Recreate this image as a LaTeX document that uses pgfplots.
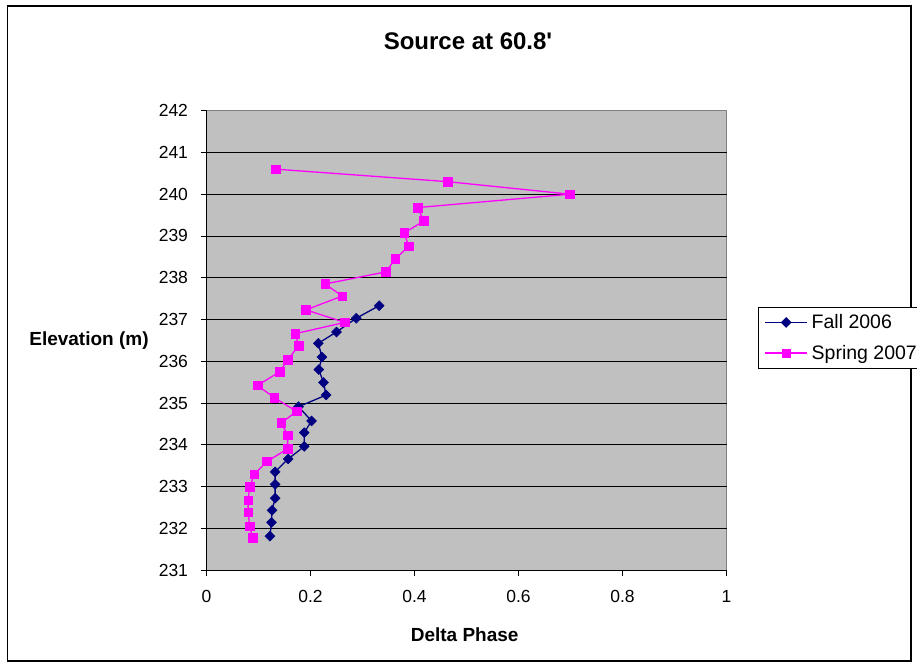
\documentclass[border=0pt]{standalone}
\usepackage{pgfplots}
\usepackage{pgfplotstable}
\pgfplotsset{compat=1.18}
\usepackage{fontspec}
\setmainfont{Liberation Sans}

\definecolor{fallnavy}{HTML}{000080}
\definecolor{springmag}{HTML}{FF00FF}
\definecolor{plotgray}{HTML}{C0C0C0}
\definecolor{framegray}{HTML}{808080}

% Delta phase against elevation, one table per survey
\pgfplotstableread{
phase elev
0.332 237.33
0.288 237.03
0.250 236.70
0.215 236.43
0.222 236.10
0.216 235.80
0.225 235.49
0.230 235.19
0.177 234.91
0.202 234.57
0.188 234.29
0.188 233.96
0.157 233.66
0.132 233.35
0.132 233.05
0.132 232.72
0.126 232.43
0.125 232.14
0.122 231.81
}\falltable

\pgfplotstableread{
phase elev
0.133 240.60
0.464 240.30
0.699 240.00
0.406 239.68
0.418 239.36
0.380 239.07
0.389 238.75
0.363 238.45
0.345 238.14
0.228 237.85
0.261 237.56
0.191 237.23
0.266 236.93
0.171 236.66
0.177 236.37
0.156 236.03
0.141 235.75
0.098 235.42
0.130 235.13
0.173 234.80
0.144 234.52
0.156 234.23
0.156 233.90
0.116 233.60
0.092 233.29
0.083 232.99
0.080 232.67
0.080 232.38
0.083 232.05
0.089 231.77
}\springtable

\begin{document}
\begin{tikzpicture}
\useasboundingbox (0,0) rectangle (917bp,667bp);
% chart frame
\draw[black, line width=1.2bp] (7.3bp,6bp) rectangle (911bp,661bp);

\begin{axis}[
  at={(206.5bp,97bp)}, anchor=south west,
  scale only axis, width=520bp, height=459.3bp,
  xmin=0, xmax=1, ymin=231, ymax=242,
  xtick={0,0.2,0.4,0.6,0.8,1},
  ytick={231,232,...,242},
  axis background/.style={fill=plotgray, draw=framegray, line width=0.8bp},
  axis x line*=bottom, axis y line*=left,
  axis line style={black, line width=0.8bp},
  tick align=outside, major tick length=6bp,
  tick style={black, line width=0.8bp},
  extra y ticks={232,233,234,235,236,237,238,239,240,241},
  extra y tick labels={},
  extra y tick style={grid=major, major tick length=0pt},
  grid style={black, line width=0.8bp},
  /pgf/number format/assume math mode=true,
  tick label style={font=\fontsize{17.5bp}{21bp}\selectfont},
  yticklabel style={xshift=-9bp},
  xticklabel style={yshift=-11bp},
  legend style={at={(1.0612,0.572)}, anchor=north west,
    draw=black, line width=0.75bp, fill=white,
    font=\fontsize{19.5bp}{23bp}\selectfont,
    inner xsep=6bp, inner ysep=4.5bp, row sep=10bp, column sep=1.5bp,
    nodes={inner sep=2.5bp}},
  legend cell align=left,
  legend image code/.code={%
    \draw[mark repeat=2,mark phase=2] plot coordinates {(0bp,0bp)(20.8bp,0bp)(41.7bp,0bp)};},
]
\addplot[color=fallnavy, line width=1.3bp, mark=square*, mark size=3.5bp,
  mark options={rotate=45, fill=fallnavy, draw=fallnavy, line width=0.5bp}]
  table[x=phase, y=elev] {\falltable};
\addplot[color=springmag, line width=1.3bp, mark=square*, mark size=4.3bp,
  mark options={fill=springmag, draw=springmag, line width=0.5bp}]
  table[x=phase, y=elev] {\springtable};
\legend{Fall 2006, Spring 2007}
\end{axis}

\node[anchor=base, font=\bfseries\fontsize{24bp}{28bp}\selectfont] at (468bp,617bp) {Source at 60.8\textquotesingle};
\node[anchor=base, font=\bfseries\fontsize{19bp}{22bp}\selectfont] at (89bp,321.3bp) {Elevation (m)};
\node[anchor=base, font=\bfseries\fontsize{19bp}{22bp}\selectfont] at (464.7bp,25.3bp) {Delta Phase};
\end{tikzpicture}
\end{document}
